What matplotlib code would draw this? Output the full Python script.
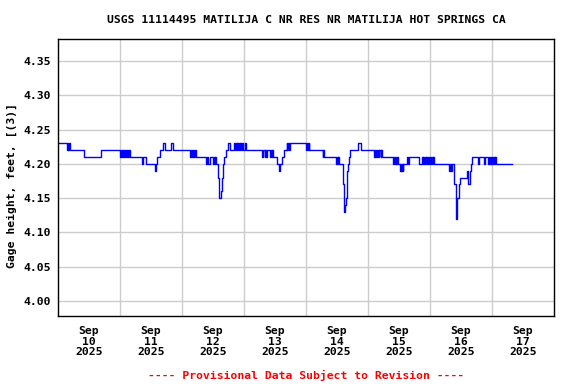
import matplotlib
matplotlib.use("Agg")
import matplotlib.pyplot as plt

# hours after 2025-09-10 00:00 where the gage reading changes (step data)
hours = [0,
         3.5, 3.75, 4.0, 4.25, 4.5,
         9.9, 16.6,
         24.1, 24.5, 24.9, 25.3, 25.6, 25.8,
         26.2, 26.6, 27.0, 27.3, 27.7,
         32.5, 32.9, 34.2, 37.5, 37.8, 38.5, 39.5,
         40.6, 41.3, 43.6, 44.4,
         51.0, 51.4, 51.8, 52.2, 52.6, 53.0, 53.5,
         57.2, 57.7, 58.2, 58.7,
         60.0, 60.3, 60.6, 60.9, 61.0,
         61.8, 62.2, 63.0, 63.4, 63.7, 64.1, 64.9,
         65.9, 66.6,
         68.2, 68.5, 68.8, 69.1, 69.4, 69.7, 70.0, 70.3, 70.6, 71.0, 71.4, 71.8, 72.2, 72.6,
         79.1, 79.3,
         80.1, 80.3, 80.6, 80.8,
         82.1, 82.4, 82.7, 83.0, 83.3,
         84.6, 85.7, 86.1, 86.7, 87.6,
         88.5, 88.8, 89.1, 89.4, 89.8,
         96.1, 96.4, 96.7, 97.0, 97.3,
         102.4, 102.7, 103.1,
         107.6, 107.9, 108.2, 108.4, 108.6,
         110.4, 110.8, 110.9, 111.2, 111.4, 111.8, 112.1, 112.5, 112.9,
         116.2, 117.3,
         122.3, 122.6, 122.9, 123.2, 123.5, 123.8, 124.1, 124.4, 125.0, 125.2, 125.4,
         129.8, 130.1, 130.4, 130.7, 131.0, 131.3, 131.5,
         132.3, 132.6, 132.9, 133.2, 133.4, 133.7,
         135.2, 135.4, 135.7,
         139.8,
         140.8, 141.1, 141.4, 141.7, 142.0, 142.3, 142.6, 142.9,
         143.4, 143.7, 144.0, 144.3, 144.6, 145.0, 145.1, 145.4,
         151.5, 151.7, 152.2, 152.6,
         153.4, 154.1, 154.6, 155.2, 155.8,
         158.2, 158.9, 159.4, 159.9, 160.4,
         162.6, 162.8,
         164.9, 165.1,
         166.6, 166.9, 167.2, 167.5, 167.8, 168.1,
         168.4, 168.7, 169.0, 169.2, 169.4,
         175.75]

gage = [4.23,
        4.22, 4.23, 4.22, 4.23, 4.22,
        4.21, 4.22,
        4.21, 4.22, 4.21, 4.22, 4.21, 4.22,
        4.21, 4.22, 4.21, 4.22, 4.21,
        4.20, 4.21, 4.20, 4.19, 4.20, 4.21, 4.22,
        4.23, 4.22, 4.23, 4.22,
        4.21, 4.22, 4.21, 4.22, 4.21, 4.22, 4.21,
        4.20, 4.21, 4.20, 4.21,
        4.20, 4.21, 4.20, 4.21, 4.20,
        4.18, 4.15, 4.16, 4.18, 4.20, 4.21, 4.22,
        4.23, 4.22,
        4.23, 4.22, 4.23, 4.22, 4.23, 4.22, 4.23, 4.22, 4.23, 4.22, 4.23, 4.22, 4.23, 4.22,
        4.21, 4.22,
        4.21, 4.22, 4.21, 4.22,
        4.21, 4.22, 4.21, 4.22, 4.21,
        4.20, 4.19, 4.20, 4.21, 4.22,
        4.23, 4.22, 4.23, 4.22, 4.23,
        4.22, 4.23, 4.22, 4.23, 4.22,
        4.21, 4.22, 4.21,
        4.20, 4.21, 4.20, 4.21, 4.20,
        4.17, 4.14, 4.13, 4.14, 4.15, 4.19, 4.20, 4.21, 4.22,
        4.23, 4.22,
        4.21, 4.22, 4.21, 4.22, 4.21, 4.22, 4.21, 4.22, 4.21, 4.22, 4.21,
        4.20, 4.21, 4.20, 4.21, 4.20, 4.21, 4.20,
        4.19, 4.20, 4.19, 4.20, 4.19, 4.20,
        4.21, 4.20, 4.21,
        4.20,
        4.21, 4.20, 4.21, 4.20, 4.21, 4.20, 4.21, 4.20,
        4.21, 4.20, 4.21, 4.20, 4.21, 4.20, 4.21, 4.20,
        4.19, 4.20, 4.19, 4.20,
        4.17, 4.12, 4.15, 4.17, 4.18,
        4.19, 4.17, 4.19, 4.20, 4.21,
        4.20, 4.21,
        4.20, 4.21,
        4.20, 4.21, 4.20, 4.21, 4.20, 4.21,
        4.20, 4.21, 4.20, 4.21, 4.20,
        4.20]

day_labels = ["Sep\n10\n2025", "Sep\n11\n2025", "Sep\n12\n2025", "Sep\n13\n2025",
              "Sep\n14\n2025", "Sep\n15\n2025", "Sep\n16\n2025", "Sep\n17\n2025"]
label_hours = [12, 36, 60, 84, 108, 132, 156, 180]
midnights = [24, 48, 72, 96, 120, 144, 168]
y_ticks = [4.00, 4.05, 4.10, 4.15, 4.20, 4.25, 4.30, 4.35]

title = "USGS 11114495 MATILIJA C NR RES NR MATILIJA HOT SPRINGS CA"
footer = "---- Provisional Data Subject to Revision ----"

plt.rcParams['font.family'] = 'DejaVu Sans Mono'
plt.rcParams['font.weight'] = 'bold'
fs = 8.2

fig = plt.figure(figsize=(5.76, 3.84), dpi=100)
ax = fig.add_axes([58/576, 1 - 316/384, 496/576, 277/384])

ax.step(hours, gage, where='post', color='#0000ff', lw=1)

ax.set_xlim(0, 192)
ax.set_ylim(3.978, 4.382)

ax.set_xticks(label_hours)
ax.set_xticklabels(day_labels, fontsize=fs, fontweight='bold', linespacing=1.1)
ax.set_xticks(midnights, minor=True)
ax.set_yticks(y_ticks)
ax.set_yticklabels(["%.2f" % v for v in y_ticks], fontsize=fs, fontweight='bold')

ax.tick_params(axis='both', which='both', length=0)
ax.tick_params(axis='x', pad=7)
ax.tick_params(axis='y', pad=5)
ax.grid(True, which='minor', axis='x', color='#cccccc', lw=1)
ax.grid(True, which='major', axis='y', color='#cccccc', lw=1)
ax.set_axisbelow(True)
for sp in ax.spines.values():
    sp.set_linewidth(1)
    sp.set_color('black')

fig.text(306/576, 1 - 20/384, title, ha='center', va='center', fontsize=fs, fontweight='bold')
fig.text(306/576, 1 - 375/384, footer, ha='center', va='center', fontsize=fs,
         fontweight='bold', color='red')
fig.text(12/576, 1 - 186/384, "Gage height, feet, [(3)]", rotation=90,
         ha='center', va='center', fontsize=fs, fontweight='bold')

plt.savefig("out.png", dpi=100)
